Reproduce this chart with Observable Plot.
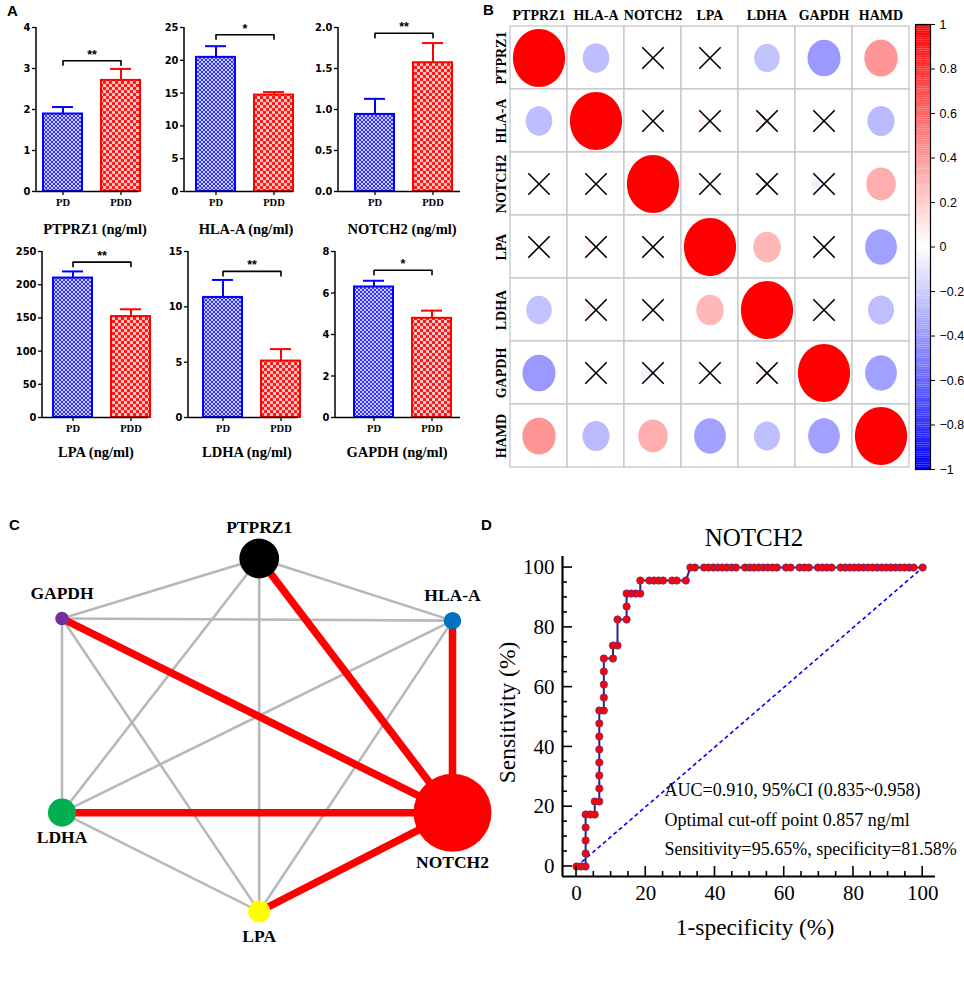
<!DOCTYPE html>
<html><head><meta charset="utf-8">
<script src="https://cdn.jsdelivr.net/npm/d3@7"></script>
<script src="https://cdn.jsdelivr.net/npm/@observablehq/plot@0.6"></script>
<style>
body{margin:0;background:#fff;}
#fig{position:relative;width:964px;height:994px;overflow:hidden;background:#fff;}
.abs{position:absolute;}
.abs svg{max-width:none!important;background:transparent!important;overflow:visible;}
.letter{position:absolute;font:bold 15px "Liberation Sans",Arial,sans-serif;color:#000;}
.btitle{position:absolute;width:180px;text-align:center;font:bold 14.5px "Liberation Serif","Times New Roman",serif;color:#000;}
</style></head><body>
<svg width="0" height="0" style="position:absolute">
<defs>
<pattern id="pb" width="4" height="4" patternUnits="userSpaceOnUse">
<rect width="4" height="4" fill="#c9c9ff"/><rect width="2" height="2" fill="#3434ff"/><rect x="2" y="2" width="2" height="2" fill="#3434ff"/>
</pattern>
<pattern id="pr" width="6" height="6" patternUnits="userSpaceOnUse">
<rect width="6" height="6" fill="#ffc4c4"/><rect width="3" height="3" fill="#ff1a1a"/><rect x="3" y="3" width="3" height="3" fill="#ff1a1a"/>
</pattern>
</defs></svg>
<div id="fig"></div>
<script>
// ---------------- DATA ----------------
// Panel A: serum levels (mean and SEM) in PD and PDD groups
const groups = ["PD", "PDD"];
const markers = ["PTPRZ1", "HLA-A", "NOTCH2", "LPA", "LDHA", "GAPDH"];
const pdMean  = [1.89, 20.45, 0.94, 210, 10.85, 6.29];
const pdSem   = [0.17, 1.70, 0.19, 10, 1.58, 0.30];
const pddMean = [2.71, 14.70, 1.57, 152, 5.10, 4.78];
const pddSem  = [0.28, 0.45, 0.24, 11, 1.08, 0.37];
const sigLevel = [3.19, 23.9, 1.93, 234, 13.2, 7.1];
const sigStars = ["**", "*", "**", "**", "**", "*"];
const yMaxA = [4, 25, 2, 250, 15, 8];
const yStepA = [1, 5, 0.5, 50, 5, 2];

// Panel B: correlation matrix
const vars = ["PTPRZ1", "HLA-A", "NOTCH2", "LPA", "LDHA", "GAPDH", "HAMD"];
const corr = [
  [ 1.00, -0.26,  0.03, -0.02, -0.24, -0.40,  0.41],
  [-0.26,  1.00, -0.01,  0.05,  0.05,  0.03, -0.27],
  [ 0.03, -0.01,  1.00,  0.00, -0.03, -0.05,  0.32],
  [-0.02,  0.05,  0.00,  1.00,  0.28,  0.02, -0.37],
  [-0.24,  0.05, -0.03,  0.28,  1.00,  0.04, -0.25],
  [-0.40,  0.03, -0.05,  0.02,  0.04,  1.00, -0.37],
  [ 0.41, -0.27,  0.32, -0.37, -0.25, -0.37,  1.00]
];
const colorbarTicks = [-1, -0.8, -0.6, -0.4, -0.2, 0, 0.2, 0.4, 0.6, 0.8, 1];

// Panel C: network
const nodeNames = ["PTPRZ1", "GAPDH", "HLA-A", "LDHA", "NOTCH2", "LPA"];
const nodeScore = [0.26, 0.03, 0.05, 0.13, 1.00, 0.08];
const edgeFrom = ["PTPRZ1","PTPRZ1","PTPRZ1","PTPRZ1","GAPDH","GAPDH","GAPDH","HLA-A","HLA-A","LDHA","NOTCH2","NOTCH2","NOTCH2","NOTCH2","NOTCH2"];
const edgeTo   = ["GAPDH","HLA-A","LDHA","LPA","HLA-A","LDHA","LPA","LDHA","LPA","LPA","PTPRZ1","GAPDH","HLA-A","LDHA","LPA"];
const edgeWeight = [0.3,0.3,0.3,0.3,0.3,0.3,0.3,0.3,0.3,0.3,1,1,1,1,1];

// Panel D: ROC curve of NOTCH2 (1-specificity %, sensitivity %)
const rocFPR = [0,1.32,2.63,2.63,2.63,2.63,2.63,3.95,5.26,5.26,6.58,6.58,6.58,6.58,6.58,6.58,6.58,6.58,7.89,7.89,7.89,7.89,7.89,10.53,10.53,11.84,11.84,14.47,14.47,14.47,15.79,17.11,18.42,18.42,21.05,22.37,23.68,25.00,27.63,28.95,31.58,32.89,34.21,36.84,38.16,39.47,40.79,42.11,43.42,44.74,46.05,48.68,50.00,51.32,52.63,53.95,55.26,56.58,57.89,60.53,61.84,64.47,65.79,67.11,69.74,71.05,72.37,73.68,76.32,77.63,78.95,80.26,81.58,82.89,84.21,85.53,86.84,88.16,89.47,90.79,92.11,93.42,94.74,96.05,97.37,100];
const rocTPR = [0,0,0,4.35,8.70,13.04,17.39,17.39,17.39,21.74,21.74,26.09,30.43,34.78,39.13,43.48,47.83,52.17,52.17,56.52,60.87,65.22,69.57,69.57,73.91,73.91,82.61,82.61,86.96,91.30,91.30,91.30,91.30,95.65,95.65,95.65,95.65,95.65,95.65,95.65,95.65,100,100,100,100,100,100,100,100,100,100,100,100,100,100,100,100,100,100,100,100,100,100,100,100,100,100,100,100,100,100,100,100,100,100,100,100,100,100,100,100,100,100,100,100,100];
const rocTickLabels = [0, 20, 40, 60, 80, 100];
const rocNotes = ["AUC=0.910, 95%CI (0.835~0.958)", "Optimal cut-off point 0.857 ng/ml", "Sensitivity=95.65%, specificity=81.58%"];

// ---------------- LAYOUT / STYLE ----------------
const SERIF = '"Liberation Serif","Times New Roman",serif';
const SANS = '"Liberation Sans",Arial,sans-serif';
const NARROW = '"Liberation Sans Narrow","Arial Narrow","DejaVu Sans Condensed",sans-serif';
const fig = document.getElementById("fig");
function place(node, left, top) {
  const d = document.createElement("div");
  d.className = "abs"; d.style.left = left + "px"; d.style.top = top + "px";
  d.appendChild(node); fig.appendChild(d); return d;
}
function addDiv(cls, text, left, top) {
  const d = document.createElement("div");
  d.className = cls; d.textContent = text; d.style.left = left + "px"; d.style.top = top + "px";
  fig.appendChild(d);
}
const plotStyle = {background: "transparent", overflow: "visible", maxWidth: "none"};

// -------- Panel A --------
const barLayout = [
  {ax: 36, top: 15, c: 26.5, fw: 102, tx: 95, ty: 221},
  {ax: 184, top: 15, c: 31.5, fw: 109, tx: 246, ty: 221},
  {ax: 338, top: 15, c: 36.5, fw: 122, tx: 402, ty: 221},
  {ax: 42, top: 239, c: 30.5, fw: 106, tx: 96, ty: 444},
  {ax: 188, top: 239, c: 34.5, fw: 110, tx: 247, ty: 444},
  {ax: 335, top: 239, c: 38.5, fw: 125, tx: 397, ty: 444}
];
const yAxisLine = (index, scales, values, dims) =>
  d3.create("svg:line")
    .attr("x1", dims.marginLeft).attr("x2", dims.marginLeft)
    .attr("y1", dims.marginTop).attr("y2", dims.height - dims.marginBottom)
    .attr("stroke", "black").attr("stroke-width", 1.5).node();

markers.forEach((m, i) => {
  const L = barLayout[i];
  const mL = 35, mT = 12, mB = 24;
  const H = i < 3 ? 200 : 202;
  const W = mL + L.fw + 8;
  const step = 58, bw = 39, p = 1 - bw / step;
  const c0 = mL + L.c;
  const a = c0 - step * p - bw / 2;
  const b = a + step * (2 + p);
  const rows = groups.map((g, j) => ({group: g, mean: j ? pddMean[i] : pdMean[i], sem: j ? pddSem[i] : pdSem[i]}));
  const drop = yMaxA[i] * 0.028;
  const bracket = [
    {g: "PD", v: sigLevel[i] - drop}, {g: "PD", v: sigLevel[i]},
    {g: "PDD", v: sigLevel[i]}, {g: "PDD", v: sigLevel[i] - drop}
  ];
  const ticks = d3.range(0, yMaxA[i] + yStepA[i] / 2, yStepA[i]);
  const fmt = yStepA[i] < 1 ? d3.format(".1f") : d3.format("d");
  const cols = {PD: "#0000ff", PDD: "#ff0000"};
  const fills = {PD: "url(#pb)", PDD: "url(#pr)"};
  const marks = [];
  groups.forEach(g => {
    const d = rows.filter(r => r.group === g);
    marks.push(
      Plot.barY(d, {x: "group", y: "mean", fill: fills[g], stroke: cols[g], strokeWidth: 2}),
      Plot.ruleX(d, {x: "group", y1: "mean", y2: r => r.mean + r.sem, stroke: cols[g], strokeWidth: 2}),
      Plot.tickY(d, {x: "group", y: r => r.mean + r.sem, stroke: cols[g], strokeWidth: 2, insetLeft: 9, insetRight: 9})
    );
  });
  marks.push(
    Plot.line(bracket, {x: "g", y: "v", stroke: "black", strokeWidth: 1.6}),
    Plot.text([sigStars[i]], {x: () => "PD", y: () => sigLevel[i], text: d => d, dx: step / 2, dy: -6, fontSize: 12.5, fontWeight: "bold", fontFamily: SANS}),
    Plot.ruleY([0], {stroke: "black", strokeWidth: 1.5}),
    yAxisLine,
    Plot.axisY({ticks, tickFormat: fmt, tickSize: 4, tickPadding: 2, strokeWidth: 1.3, fontSize: 11, fontWeight: "bold", fontFamily: NARROW, label: null}),
    Plot.axisX({tickSize: 4, tickPadding: 3, strokeWidth: 1.3, fontSize: 10.5, fontWeight: "bold", fontFamily: SERIF, label: null})
  );
  const chart = Plot.plot({
    width: W, height: H, marginLeft: mL, marginRight: W - mL - L.fw, marginTop: mT, marginBottom: mB,
    x: {domain: groups, range: [a, b], padding: p},
    y: {domain: [0, yMaxA[i]]},
    style: plotStyle,
    marks
  });
  place(chart, L.ax - mL, L.top);
  addDiv("btitle", m + " (ng/ml)", L.tx - 90, L.ty);
});

// -------- Panel B --------
const colorCfg = {type: "linear", domain: [-1, 0, 1], range: ["#0000ff", "#ffffff", "#ff0000"]};
const corrCells = [];
vars.forEach((r, i) => vars.forEach((c, j) => corrCells.push({row: r, col: c, v: corr[i][j]})));
const insig = d => Math.abs(d.v) < 0.15;
const ellipse = {
  draw(ctx, size) {
    const r = Math.sqrt(size / Math.PI), rx = r * 0.9, ry = r, k = 0.5523;
    ctx.moveTo(rx, 0);
    ctx.bezierCurveTo(rx, ry * k, rx * k, ry, 0, ry);
    ctx.bezierCurveTo(-rx * k, ry, -rx, ry * k, -rx, 0);
    ctx.bezierCurveTo(-rx, -ry * k, -rx * k, -ry, 0, -ry);
    ctx.bezierCurveTo(rx * k, -ry, rx, -ry * k, rx, 0);
    ctx.closePath();
  }
};
const corrPlot = Plot.plot({
  width: 440, height: 475, marginLeft: 29, marginRight: 11, marginTop: 24, marginBottom: 6,
  x: {domain: vars, padding: 0},
  y: {domain: vars, padding: 0},
  r: {type: "sqrt", domain: [0, 1], range: [0, 29]},
  color: colorCfg,
  style: plotStyle,
  marks: [
    Plot.cell(corrCells, {x: "col", y: "row", fill: "white", stroke: "#c6c6c6", strokeWidth: 1.3}),
    Plot.dot(corrCells.filter(d => !insig(d)), {x: "col", y: "row", r: d => Math.abs(d.v), fill: "v", symbol: ellipse}),
    Plot.dot(corrCells.filter(insig), {x: "col", y: "row", r: d => Math.abs(d.v), fill: "v", symbol: ellipse, dx: -6.5}),
    Plot.dot(corrCells.filter(insig), {x: "col", y: "row", symbol: "times", r: 9.8, stroke: "black", strokeWidth: 1.6}),
    Plot.axisX({anchor: "top", tickSize: 0, tickPadding: 5, fontSize: 14, fontWeight: "bold", fontFamily: SERIF, label: null}),
    Plot.axisY({anchor: "left", tickSize: 0, tickRotate: -90, tickPadding: 4, fontSize: 14, fontWeight: "bold", fontFamily: SERIF, label: null})
  ]
});
place(corrPlot, 480, 0);

const colorSteps = d3.range(-1, 1, 0.01);
const cbar = Plot.plot({
  width: 59, height: 475, marginLeft: 10, marginRight: 34, marginTop: 24, marginBottom: 6,
  y: {domain: [-1, 1]},
  color: colorCfg,
  style: plotStyle,
  marks: [
    Plot.rect(colorSteps, {y1: d => d, y2: d => d + 0.0101, fill: d => d + 0.005}),
    Plot.frame({stroke: "black", strokeWidth: 1.2}),
    Plot.axisY({anchor: "right", ticks: colorbarTicks, tickFormat: d3.format("~g"), tickSize: 4, tickPadding: 5, fontSize: 12.5, fontFamily: SANS, label: null})
  ]
});
place(cbar, 905, 0);

// -------- Panel C --------
const nodeLayoutX = [0.505, 0.0, 1.0, 0.0, 1.0, 0.505];
const nodeLayoutY = [1.0, 0.83, 0.824, 0.28, 0.28, 0.0];
const labelSide = [-1, -1, -1, 1, 1, 1];
const nodeColor = {"PTPRZ1": "#000000", "GAPDH": "#7030a0", "HLA-A": "#0070c0", "LDHA": "#00b050", "NOTCH2": "#ff0000", "LPA": "#ffff00"};
const nodes = nodeNames.map((n, i) => ({name: n, score: nodeScore[i], x: nodeLayoutX[i], y: nodeLayoutY[i], side: labelSide[i]}));
const byName = Object.fromEntries(nodes.map(n => [n.name, n]));
const edges = edgeFrom.map((s, i) => ({s: byName[s], t: byName[edgeTo[i]], w: edgeWeight[i]}));
const rMaxC = 39;
const netPlot = Plot.plot({
  width: 500, height: 450,
  x: {domain: [0, 1], range: [61.5, 452]},
  y: {domain: [0, 1], range: [411, 58]},
  r: {type: "sqrt", domain: [0, 1], range: [0, rMaxC]},
  axis: null,
  style: plotStyle,
  marks: [
    Plot.link(edges.filter(e => e.w < 0.5), {x1: e => e.s.x, y1: e => e.s.y, x2: e => e.t.x, y2: e => e.t.y, stroke: "#b8b8b8", strokeWidth: 2.6}),
    Plot.link(edges.filter(e => e.w >= 0.5), {x1: e => e.s.x, y1: e => e.s.y, x2: e => e.t.x, y2: e => e.t.y, stroke: "#ff0000", strokeWidth: 7.5}),
    Plot.dot(nodes, {x: "x", y: "y", r: "score", fill: d => nodeColor[d.name]}),
    ...nodes.map(n => Plot.text([n], {x: "x", y: "y", text: "name",
      dy: n.side * Math.max(rMaxC * Math.sqrt(n.score) + 11, 25),
      fontSize: 17.5, fontWeight: "bold", fontFamily: SERIF, fill: "black"}))
  ]
});
place(netPlot, 0, 500);

// -------- Panel D --------
const roc = rocFPR.map((x, i) => ({x, y: rocTPR[i]}));
const xDomD = [-4.05, 103.7], yDomD = [-3.35, 103.7];
const rocMinor = d3.range(0, 101, 5);
const rocTicks = (index, {x, y}, values, dims) => {
  const g = d3.create("svg:g").attr("stroke", "black").attr("stroke-width", 1.6);
  const x0 = dims.marginLeft, y0 = dims.height - dims.marginBottom;
  for (const v of rocMinor) {
    const len = v % 20 === 0 ? 10 : 5;
    g.append("line").attr("x1", x0).attr("x2", x0 + len).attr("y1", y(v)).attr("y2", y(v));
    g.append("line").attr("x1", x(v)).attr("x2", x(v)).attr("y1", y0).attr("y2", y0 - len);
  }
  return g.node();
};
const rocPlot = Plot.plot({
  width: 464, height: 474, marginLeft: 62, marginRight: 29, marginTop: 36, marginBottom: 118,
  x: {domain: xDomD}, y: {domain: yDomD},
  style: plotStyle,
  marks: [
    Plot.link([{a: 0, b: 100}], {x1: "a", y1: "a", x2: "b", y2: "b", stroke: "#0000ff", strokeWidth: 1.6, strokeDasharray: "4,3"}),
    Plot.line(roc, {x: "x", y: "y", stroke: "#1c2a8c", strokeWidth: 2}),
    Plot.dot(roc, {x: "x", y: "y", r: 3.7, fill: "#ff0000", stroke: "#4b3c9c", strokeWidth: 0.7}),
    Plot.ruleX([xDomD[0]], {stroke: "black", strokeWidth: 2.2}),
    Plot.ruleY([yDomD[0]], {stroke: "black", strokeWidth: 2.2}),
    rocTicks,
    Plot.axisX({ticks: rocTickLabels, tickSize: 0, tickPadding: 9, fontSize: 21, fontFamily: SERIF, label: null}),
    Plot.axisY({ticks: rocTickLabels, tickSize: 0, tickPadding: 8, fontSize: 21, fontFamily: SERIF, label: null}),
    Plot.text(["NOTCH2"], {text: d => d, frameAnchor: "top", lineAnchor: "middle", dx: 5, dy: -19, fontSize: 25, fontFamily: SERIF}),
    Plot.text(["1-specificity (%)"], {text: d => d, frameAnchor: "bottom", lineAnchor: "middle", dx: 6, dy: 51, fontSize: 23.5, fontFamily: SERIF}),
    Plot.text(["Sensitivity (%)"], {text: d => d, frameAnchor: "left", textAnchor: "middle", lineAnchor: "middle", rotate: -90, dx: -55, dy: -4, fontSize: 23.5, fontFamily: SERIF}),
    Plot.text([rocNotes.join("\n")], {text: d => d, frameAnchor: "bottom-left", textAnchor: "start", lineAnchor: "middle", lineHeight: 1.64, dx: 102, dy: -60, fontSize: 18, fontFamily: SERIF})
  ]
});
place(rocPlot, 500, 520);

// Panel letters
addDiv("letter", "A", 7, 2);
addDiv("letter", "B", 483, 1);
addDiv("letter", "C", 9, 516);
addDiv("letter", "D", 481, 516);
</script>
</body></html>
